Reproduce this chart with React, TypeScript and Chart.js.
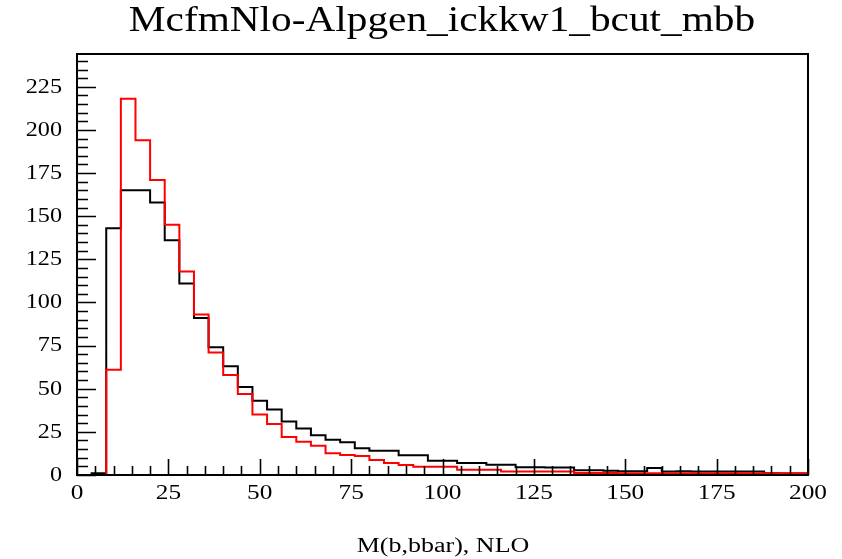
import React, { useEffect, useRef } from 'react';
import { Chart, registerables } from 'chart.js';

Chart.register(...registerables);

// Histogram bin low edges (last value is the upper edge of the final bin)
const binEdges = [
  0, 4, 8, 12, 16, 20, 24, 28, 32, 36, 40, 44, 48, 52, 56, 60, 64, 68, 72, 76,
  80, 84, 88, 92, 96, 100, 104, 108, 112, 116, 120, 124, 128, 132, 136, 140, 144, 148, 152, 156,
  160, 164, 168, 172, 176, 180, 184, 188, 192, 196, 200,
];

// Black histogram contents (one value per bin)
const blackCounts = [
  0, 1, 143, 165, 165, 158, 136, 111, 91, 74,
  63, 51, 43, 38, 31, 27, 23, 20.5, 19, 15.5,
  14, 14, 11.5, 11.5, 8.3, 8.3, 7, 7, 6, 6,
  4.5, 4.5, 4.3, 4.3, 2.7, 2.7, 2.5, 2.2, 2.2, 4,
  2, 2.2, 2, 2, 2, 2, 2, 1, 0.8, 0.8,
];

// Red histogram contents (one value per bin)
const redCounts = [
  0, 0, 61, 218, 194, 171, 145, 118, 93, 71,
  58, 47, 35, 29.6, 22, 19.3, 17, 12.6, 11.6, 11,
  8.7, 7, 5.8, 4.8, 4.8, 4.8, 3, 3, 3, 2,
  2, 2, 2, 2, 1.2, 1.2, 1.2, 1, 1, 1,
  1, 1, 1, 1, 1, 1, 1, 1, 1, 1,
];

const xTickValues = [0, 25, 50, 75, 100, 125, 150, 175, 200];
const yTickValues = [0, 25, 50, 75, 100, 125, 150, 175, 200, 225];
const xMinorStep = 5;
const yMinorStep = 5;
const xMin = 0;
const xMax = 200;
const yMin = 0;
const yMax = 244;

const titleText = 'McfmNlo-Alpgen_ickkw1_bcut_mbb';
const xTitleText = 'M(b,bbar), NLO';

const SERIF = '"Liberation Serif", "Times New Roman", Times, serif';

function toSteps(counts: number[]) {
  // each point sits at its bin's low edge; a horizontal-first step draws the bin top
  const pts = counts.map((c, i) => ({ x: binEdges[i], y: c }));
  pts.push({ x: binEdges[counts.length], y: counts[counts.length - 1] });
  return pts;
}

function drawStretched(
  ctx: CanvasRenderingContext2D,
  text: string,
  x: number,
  y: number,
  size: number,
  sx: number,
  align: 'center' | 'right'
) {
  ctx.save();
  ctx.font = `${size}px ${SERIF}`;
  ctx.textBaseline = 'middle';
  ctx.textAlign = 'left';
  ctx.fillStyle = '#000';
  const w = ctx.measureText(text).width * sx;
  const left = align === 'center' ? x - w / 2 : x - w;
  ctx.translate(left, y);
  ctx.scale(sx, 1);
  ctx.fillText(text, 0, 0);
  ctx.restore();
}

const rootFrame = {
  id: 'rootFrame',
  afterDraw(chart: any) {
    const { ctx, chartArea } = chart;
    const xs = chart.scales.x;
    const ys = chart.scales.y;
    const { left, right, top, bottom } = chartArea;
    ctx.save();
    ctx.strokeStyle = '#000';
    ctx.lineWidth = 2;
    ctx.strokeRect(left, top, right - left, bottom - top);

    ctx.lineWidth = 1.6;
    ctx.beginPath();
    for (let v = xMin; v <= xMax + 1e-9; v += xMinorStep) {
      const px = Math.round(xs.getPixelForValue(v)) + 0.5;
      const major = xTickValues.includes(v);
      const len = major ? 16 : 9;
      ctx.moveTo(px, bottom);
      ctx.lineTo(px, bottom - len);
    }
    for (let v = yMin; v <= yMax; v += yMinorStep) {
      const py = Math.round(ys.getPixelForValue(v)) + 0.5;
      const major = yTickValues.includes(v);
      const len = major ? 19 : 11;
      ctx.moveTo(left, py);
      ctx.lineTo(left + len, py);
    }
    ctx.stroke();
    ctx.restore();

    xTickValues.forEach((v) => {
      drawStretched(ctx, String(v), xs.getPixelForValue(v), 493, 22, 1.15, 'center');
    });
    yTickValues.forEach((v) => {
      drawStretched(ctx, String(v), 62, ys.getPixelForValue(v), 22, 1.1, 'right');
    });

    drawStretched(ctx, titleText, 442, 22, 35, 1.18, 'center');
    drawStretched(ctx, xTitleText, 443, 547, 20, 1.3, 'center');
  },
};

export default function App() {
  const canvasRef = useRef<HTMLCanvasElement | null>(null);

  useEffect(() => {
    document.body.style.margin = '0';
    const canvas = canvasRef.current;
    if (!canvas) return;
    const chart = new Chart(canvas, {
      type: 'line',
      data: {
        datasets: [
          {
            label: 'red',
            data: toSteps(redCounts),
            borderColor: '#ff0000',
            borderWidth: 2,
            stepped: 'before',
            pointRadius: 0,
            fill: false,
          },
          {
            label: 'black',
            data: toSteps(blackCounts),
            borderColor: '#000000',
            borderWidth: 2,
            stepped: 'before',
            pointRadius: 0,
            fill: false,
          },
        ],
      },
      options: {
        animation: false,
        responsive: true,
        maintainAspectRatio: false,
        devicePixelRatio: 1,
        layout: { padding: { top: 54, right: 34, left: 0, bottom: 0 } },
        plugins: {
          legend: { display: false },
          tooltip: { enabled: false },
          title: { display: false },
        },
        scales: {
          x: {
            type: 'linear',
            min: xMin,
            max: xMax,
            grid: { display: false, drawTicks: false },
            border: { display: false },
            ticks: { display: false, stepSize: 25 },
            afterFit: (s: any) => {
              s.height = 84;
            },
          },
          y: {
            type: 'linear',
            min: yMin,
            max: yMax,
            grid: { display: false, drawTicks: false },
            border: { display: false },
            ticks: { display: false, stepSize: 25, includeBounds: false },
            afterFit: (s: any) => {
              s.width = 77;
            },
          },
        },
      } as any,
      plugins: [rootFrame],
    });
    return () => chart.destroy();
  }, []);

  return (
    <div style={{ width: 842, height: 559, position: 'relative', background: '#fff' }}>
      <canvas ref={canvasRef} style={{ display: 'block' }} />
    </div>
  );
}
